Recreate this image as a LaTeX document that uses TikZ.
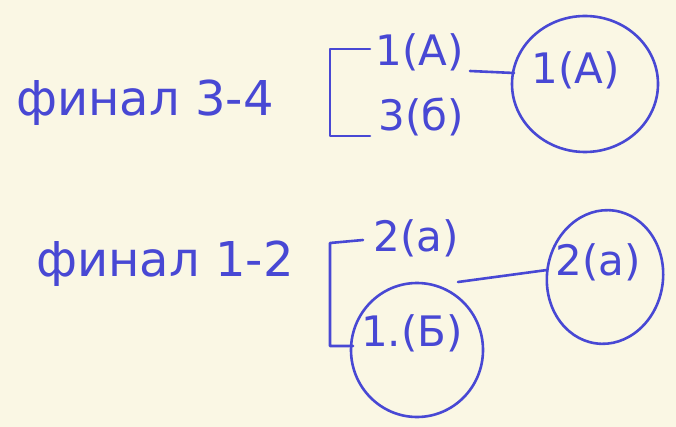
\documentclass[tikz,border=0pt]{standalone}
\usepackage{fontspec}
\setmainfont{DejaVu Sans}
\definecolor{paper}{RGB}{250,247,228}
\definecolor{ink}{RGB}{72,72,212}
\begin{document}
\begin{tikzpicture}[x=1pt,y=-1pt,
  ink/.style={draw=ink,line width=2.6pt,line cap=round,line join=round},
  lbl/.style={text=ink,font=\fontsize{48}{52}\selectfont,inner sep=0pt},
  team/.style={text=ink,font=\fontsize{42}{46}\selectfont,inner sep=0pt}]
\fill[paper] (0,0) rectangle (676,427);
\useasboundingbox (0,0) rectangle (676,427);
% final 3-4
\node[lbl] (f34) at (145,103) {финал 3-4};
\node[team] (a1) at (420,52) {1(А)};
\node[team] (b3) at (421,117) {3(б)};
\coordinate (bt1) at (370,49);
\coordinate (bb1) at (370,136);
\draw[ink] (bt1) -- (330,49) -- (330,136) -- (bb1);
\node[team] (w1) at (576,70) {1(А)};
\draw[ink] (585,84) ellipse [x radius=73, y radius=68];
\coordinate (a1out) at (470,71);
\coordinate (w1in) at (514,73);
\draw[ink] (a1out) -- (w1in);
% final 1-2
\node[lbl] (f12) at (165,264) {финал 1-2};
\node[team] (a2) at (416,238) {2(а)};
\node[team] (b1) at (412,333) {1.(Б)};
\draw[ink] (417,350) ellipse [x radius=66, y radius=67];
\coordinate (bt2) at (363,240);
\coordinate (bb2) at (353,346);
\draw[ink] (bt2) -- (330,243) -- (330,346) -- (bb2);
\node[team] (w2) at (598,262) {2(а)};
\draw[ink,rotate around={-8:(605,277)}] (605,277) ellipse [x radius=58, y radius=67];
\coordinate (b1out) at (458,282);
\coordinate (w2in) at (547,270);
\draw[ink] (b1out) -- (w2in);
\end{tikzpicture}
\end{document}
